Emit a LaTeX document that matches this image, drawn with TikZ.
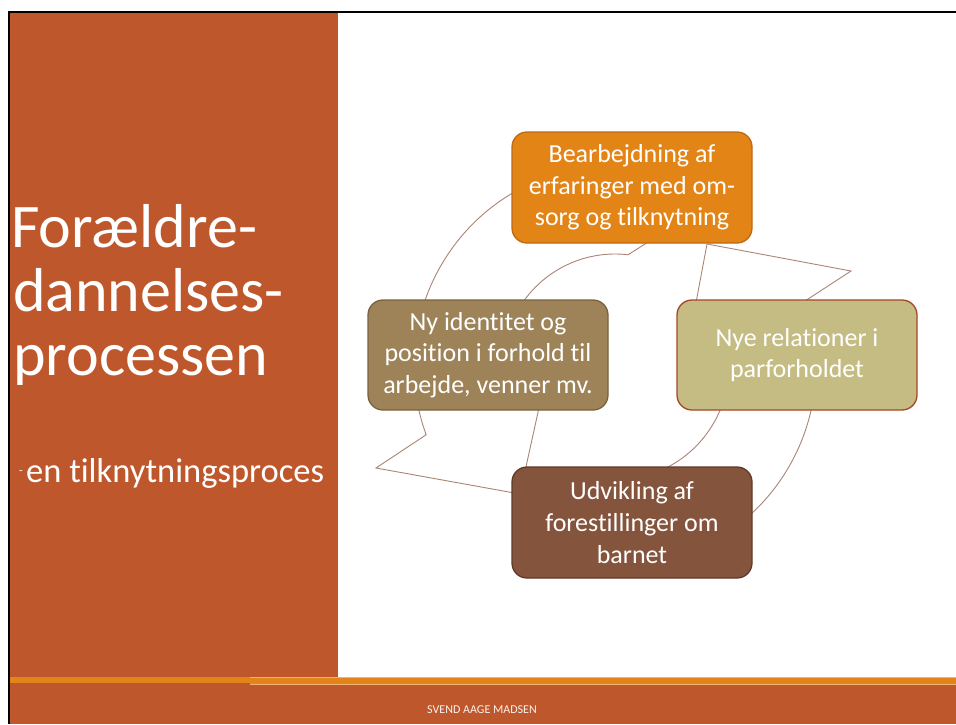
\documentclass[tikz,border=0pt]{standalone}
\usepackage{fontspec}
\setmainfont{Carlito}[Ligatures={NoCommon}]
\usetikzlibrary{calc}
\definecolor{panel}{RGB}{190,88,44}
\definecolor{band}{RGB}{227,132,26}
\definecolor{bandlight}{RGB}{240,178,115}
\definecolor{arrowline}{RGB}{172,132,118}
\definecolor{topfill}{RGB}{227,132,22}
\definecolor{topdraw}{RGB}{190,105,20}
\definecolor{rightfill}{RGB}{196,188,130}
\definecolor{rightdraw}{RGB}{165,70,40}
\definecolor{botfill}{RGB}{133,84,61}
\definecolor{botdraw}{RGB}{95,58,40}
\definecolor{leftfill}{RGB}{158,131,88}
\definecolor{leftdraw}{RGB}{120,98,62}
\begin{document}
\begin{tikzpicture}[x=1pt,y=-1pt,
  cyclebox/.style={rounded corners=15pt, minimum width=240pt, minimum height=111pt,
    line width=1.3pt, align=center, text=white, inner sep=0pt,
    font=\fontsize{26}{31.7}\selectfont},
  arrowshape/.style={draw=arrowline, fill=white, line width=0.9pt, line join=miter},
  titletext/.style={text=white, font=\fontsize{62}{68}\selectfont, anchor=base west, inner sep=0pt}]
\useasboundingbox (0,0) rectangle (956,724);
\fill[white] (0,0) rectangle (956,724);
% frame and panels
\fill[black] (7.5,11) rectangle (956,13.3);
\fill[black] (7.5,11) rectangle (10,724);
\fill[panel] (10,13.3) rectangle (338.3,677);
\fill[panel] (10,683) rectangle (956,724);
\fill[band] (10,677) rectangle (250,683);
\fill[bandlight] (250,676.5) rectangle (956,685);
\fill[band] (250,677.5) rectangle (956,684);
% cycle arrows
\coordinate (C) at (615,366);
\draw[arrowshape] ($(C)+(-58.1:201)$) arc[start angle=-58.1, end angle=-200, radius=201]
  -- (376,468) -- (520,494) -- (544,385) -- ($(C)+(-200:112)$)
  arc[start angle=-200, end angle=-83.3, radius=112] -- cycle;
\draw[arrowshape] ($(C)+(120:201)$) arc[start angle=120, end angle=-18.9, radius=201]
  -- (851,271) -- (707,244) -- (689,340) -- ($(C)+(-18.9:114)$)
  arc[start angle=-18.9, end angle=96.7, radius=114] -- cycle;
% boxes
\node[cyclebox, fill=topfill, draw=topdraw] (b1) at (632,187.5) {Bearbejdning af\\erfaringer med om-\\sorg og tilknytning};
\node[cyclebox, fill=rightfill, draw=rightdraw, minimum height=110pt] (b2) at (797,355) {Nye relationer i\\parforholdet};
\node[cyclebox, fill=botfill, draw=botdraw] (b3) at (632,522.5) {Udvikling af\\forestillinger om\\barnet};
\node[cyclebox, fill=leftfill, draw=leftdraw, minimum height=110pt] (b4) at (488,355) {Ny identitet og\\position i forhold til\\arbejde, venner mv.};
% title
\node[titletext] (t1) at (11,247) {Forældre-};
\node[titletext] (t2) at (13,311) {dannelses-};
\node[titletext] (t3) at (13,375) {processen};
\node[text=white, font=\fontsize{12}{14}\selectfont, inner sep=0pt] (dash) at (21,473) {-};
\node[text=white, font=\fontsize{34.5}{41}\selectfont, anchor=base west, inner sep=0pt] (sub) at (26,482) {en tilknytningsproces};
% footer
\node[text=white!92!panel, font=\fontsize{12}{14}\selectfont, anchor=base, inner sep=0pt] (foot) at (482,713) {SVEND AAGE MADSEN};
\end{tikzpicture}
\end{document}
